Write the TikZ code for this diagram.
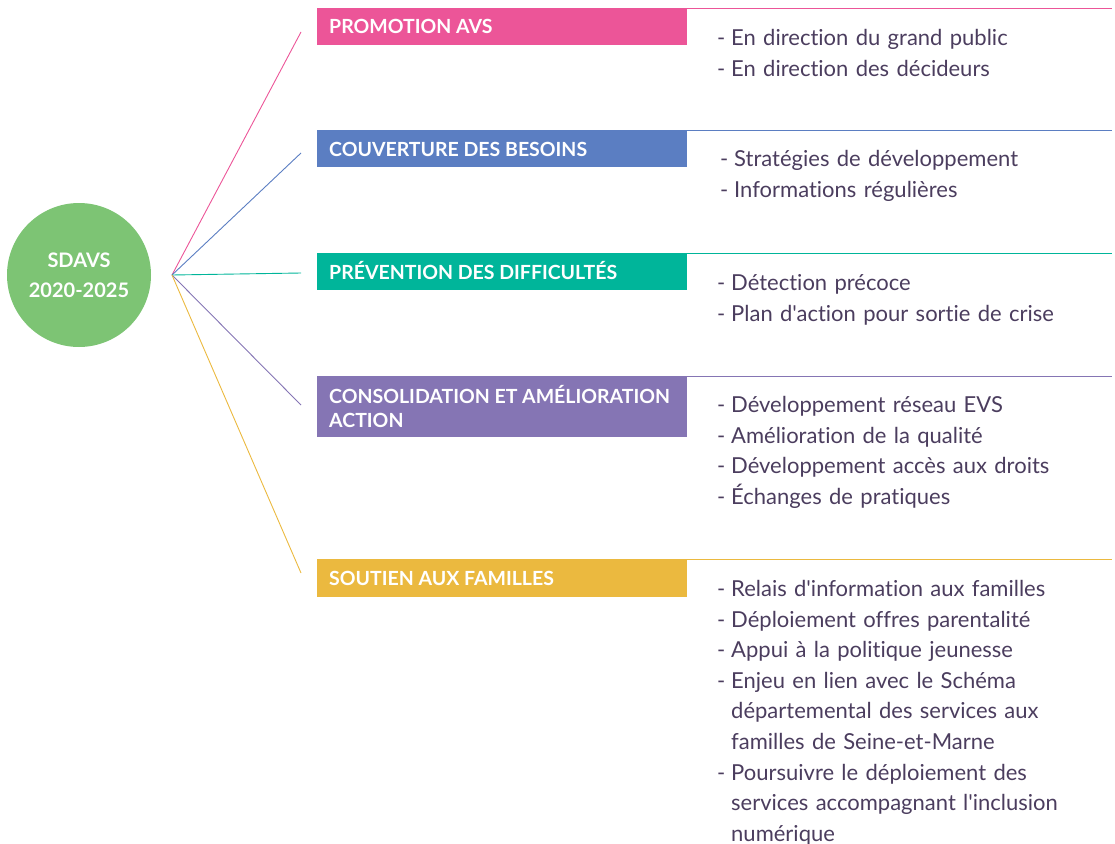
\documentclass[tikz,border=0pt]{standalone}
\usepackage{fontspec}
\setmainfont{Lato}[Ligatures={TeXOff,CommonOff}]
\usetikzlibrary{calc}
\definecolor{cpink}{HTML}{EC5598}
\definecolor{cblue}{HTML}{5B7EC2}
\definecolor{cteal}{HTML}{00B59A}
\definecolor{cpurple}{HTML}{8575B4}
\definecolor{cyellow}{HTML}{EBB93F}
\definecolor{cgreen}{HTML}{7DC474}
\definecolor{ctext}{HTML}{4B3D5E}
\newcommand\li{\makebox[14pt][l]{-}}
\newcommand\cont{\hspace*{14pt}}
\begin{document}
\begin{tikzpicture}[x=1pt,y=-1pt,
  box/.style={fill=#1, draw=none, anchor=north west, minimum width=370pt, inner sep=0pt},
  title/.style={anchor=base west, inner sep=0pt, text=white, font=\fontsize{19.5}{24}\selectfont\bfseries, align=left},
  items/.style={anchor=base west, inner sep=0pt, text=ctext, text width=396pt, align=left, font=\fontsize{22}{30.6}\selectfont},
  topline/.style={draw=#1, line width=1.3pt},
  fan/.style={draw=#1, line width=0.9pt}]
\useasboundingbox (0,0) rectangle (1115,843);
% central circle
\node[circle, fill=cgreen, minimum size=144pt, inner sep=0pt, text=white,
      font=\fontsize{20}{30}\selectfont\bfseries, align=center] (c) at (79,275) {SDAVS\\2020-2025};
% hub and fan ends
\coordinate (hub) at (172,275);
\coordinate (e1) at (301,32);
\coordinate (e2) at (301,153);
\coordinate (e3) at (301,273);
\coordinate (e4) at (301,405);
\coordinate (e5) at (301,573);
\draw[fan=cpink] (hub) -- (e1);
\draw[fan=cblue] (hub) -- (e2);
\draw[fan=cteal] (hub) -- (e3);
\draw[fan=cpurple] (hub) -- (e4);
\draw[fan=cyellow] (hub) -- (e5);
% boxes
\node[box=cpink, minimum height=36pt] (b1) at (317,9) {};
\node[box=cblue, minimum height=36pt] (b2) at (317,131) {};
\node[box=cteal, minimum height=36pt] (b3) at (317,254) {};
\node[box=cpurple, minimum height=60pt] (b4) at (317,377) {};
\node[box=cyellow, minimum height=37pt] (b5) at (317,560) {};
% top lines
\draw[topline=cpink] ([yshift=0.6pt]b1.north west) -- ++(795,0);
\draw[topline=cblue] ([yshift=0.6pt]b2.north west) -- ++(795,0);
\draw[topline=cteal] ([yshift=0.6pt]b3.north west) -- ++(795,0);
\draw[topline=cpurple] ([yshift=0.6pt]b4.north west) -- ++(795,0);
\draw[topline=cyellow] ([yshift=0.6pt]b5.north west) -- ++(795,0);
% titles
\node[title] (t1) at ($(b1.north west)+(12,25)$) {PROMOTION AVS};
\node[title] (t2) at ($(b2.north west)+(12,25)$) {COUVERTURE DES BESOINS};
\node[title] (t3) at ($(b3.north west)+(12,25)$) {PRÉVENTION DES DIFFICULTÉS};
\node[title] (t4) at ($(b4.north west)+(12,50)$) {CONSOLIDATION ET AMÉLIORATION\\ACTION};
\node[title] (t5) at ($(b5.north west)+(12,25)$) {SOUTIEN AUX FAMILLES};
% item lists
\node[items] (l1) at (717,45.5) {\li En direction du grand public\\\li En direction des décideurs};
\node[items] (l2) at (720,166.5) {\li Stratégies de développement\\\li Informations régulières};
\node[items] (l3) at (717,290.5) {\li Détection précoce\\\li Plan d'action pour sortie de crise};
\node[items] (l4) at (717,412.5) {\li Développement réseau EVS\\\li Amélioration de la qualité\\\li Développement accès aux droits\\\li Échanges de pratiques};
\node[items] (l5) at (717,596.5) {\li Relais d'information aux familles\\\li Déploiement offres parentalité\\\li Appui à la politique jeunesse\\\li Enjeu en lien avec le Schéma\\\cont départemental des services aux\\\cont familles de Seine-et-Marne\\\li Poursuivre le déploiement des\\\cont services accompagnant l'inclusion\\\cont numérique};
\end{tikzpicture}
\end{document}
